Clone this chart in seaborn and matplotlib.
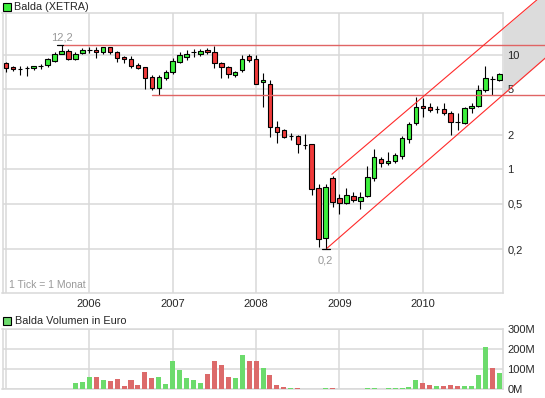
import numpy as np
import pandas as pd
import matplotlib
matplotlib.use('Agg')
import matplotlib.pyplot as plt
import seaborn as sns
from matplotlib.patches import Rectangle

# Monthly candles Jan 2005 .. Dec 2010 (month index 0..71)
months = np.arange(72)
opens = [8.46, 7.90, 7.60, 7.65, 7.65, 7.98, 8.18, 8.90, 10.3, 10.9, 9.30, 10.35,
         11.05, 11.06, 10.57, 11.7, 10.57, 9.67, 9.23, 8.18, 7.80, 6.47, 5.11, 6.32,
         7.06, 8.74, 9.67, 10.55, 10.3, 11.06, 10.7, 8.46, 7.80, 6.65, 7.40, 9.86,
         9.17, 5.76, 5.63, 2.36, 2.21, 1.965, 1.95, 1.63, 1.65, 0.682, 0.253, 0.834,
         0.558, 0.505, 0.58, 0.531, 0.588, 0.845, 1.22, 1.13, 1.18, 1.31, 1.83, 2.53,
         3.58, 3.49, 3.36, 3.37, 3.09, 2.62, 2.53, 3.42, 3.58, 4.94, 6.16, 6.04]
highs = [8.74, 8.06, 8.00, 8.06, 8.00, 8.40, 9.36, 10.7, 12.2, 11.3, 10.7, 11.45,
         11.7, 11.7, 11.7, 11.75, 10.9, 9.86, 9.86, 8.46, 7.80, 6.70, 6.70, 7.40,
         9.50, 10.7, 11.06, 11.2, 11.3, 11.6, 12.05, 8.65, 8.06, 7.25, 10.0, 10.15,
         10.0, 6.90, 6.04, 2.65, 2.25, 2.07, 1.99, 2.04, 1.66, 0.744, 0.744, 0.874,
         0.608, 0.682, 0.637, 0.637, 1.07, 1.50, 1.27, 1.43, 1.38, 1.96, 2.61, 4.32,
         4.17, 3.83, 3.58, 3.78, 3.26, 3.09, 3.53, 3.78, 5.46, 8.01, 6.55, 6.92]
lows = [7.06, 7.30, 6.70, 6.50, 7.45, 7.50, 7.80, 8.74, 10.2, 8.97, 9.10, 10.25,
        10.5, 9.50, 10.3, 10.25, 8.74, 8.57, 7.65, 7.54, 5.03, 4.94, 4.44, 6.04,
        6.78, 8.46, 9.04, 9.67, 9.86, 10.15, 7.65, 6.25, 6.32, 6.47, 7.15, 8.74,
        5.60, 3.53, 1.90, 1.71, 1.89, 1.80, 1.38, 1.50, 0.596, 0.211, 0.20, 0.465,
        0.404, 0.497, 0.52, 0.449, 0.576, 0.795, 1.05, 1.10, 1.13, 1.22, 1.69, 2.44,
        2.88, 3.19, 3.09, 2.98, 2.00, 2.21, 2.49, 3.09, 3.53, 4.77, 4.47, 5.96]
closes = [7.65, 7.54, 7.60, 7.65, 8.00, 8.05, 9.17, 10.15, 10.9, 9.17, 10.3, 11.06,
          11.08, 10.57, 11.7, 10.57, 9.50, 9.17, 8.06, 7.75, 6.25, 5.11, 6.47, 7.06,
          8.86, 10.0, 10.3, 10.58, 10.84, 10.57, 8.57, 7.80, 6.78, 7.06, 9.17, 8.97,
          5.63, 6.00, 2.36, 2.13, 1.93, 1.975, 1.65, 1.625, 0.668, 0.244, 0.704, 0.514,
          0.505, 0.592, 0.536, 0.573, 0.851, 1.27, 1.13, 1.18, 1.33, 1.87, 2.47, 3.49,
          3.42, 3.30, 3.38, 3.09, 2.61, 2.60, 3.42, 3.58, 4.94, 6.25, 6.14, 6.82]

# Volume in million euro
volumes = [0, 0, 0, 0, 0, 0, 0, 0, 0, 0, 30, 35,
           60, 60, 45, 40, 50, 15, 45, 20, 85, 55, 60, 25,
           140, 95, 55, 45, 30, 75, 140, 120, 60, 55, 170, 140,
           140, 105, 70, 20, 10, 5, 5, 0, 0, 0, 5, 5,
           0, 0, 0, 0, 5, 5, 0, 5, 5, 5, 12, 45,
           30, 20, 15, 15, 20, 15, 15, 15, 70, 210, 105, 80]

year_ticks = [0, 12, 24, 36, 48, 60]
year_labels = ['', '2006', '2007', '2008', '2009', '2010']
price_ticks = [0.2, 0.5, 1, 2, 5, 10]
price_labels = ['0,2', '0,5', '1', '2', '5', '10']
vol_ticks = [0, 100, 200, 300]
vol_labels = ['0M', '100M', '200M', '300M']

high_mark = 12.2
high_month = 8
low_mark = 0.2
low_month = 46
support_level = 4.44
support_start = 21.0

# trend channel (month, price)
chan_low_x = [46.2, 77.6]
chan_low_y = [0.204, 9.4]
chan_high_x = [46.9, 77.6]
chan_high_y = [0.905, 35.0]

UP = '#3cef3c'
DOWN = '#f03a3a'
VOL_UP = '#6cdb6c'
VOL_DOWN = '#dc6a6a'
GRID = '#d9d9d9'
LINE_RED = '#e06464'
XMIN, XMAX, XFIG = -0.49, 71.57, 77.6

sns.set_style('white')
plt.rcParams['font.family'] = ['Liberation Sans', 'DejaVu Sans']

fig = plt.figure(figsize=(5.45, 3.98), dpi=100)
ax = fig.add_axes([2.5 / 545, (398 - 293.3) / 398, 500.8 / 545, 280 / 398])
axv = fig.add_axes([2.5 / 545, (398 - 389) / 398, 500.8 / 545, 59.7 / 398])

df = pd.DataFrame({'month': months, 'open': opens, 'high': highs,
                   'low': lows, 'close': closes, 'volume': volumes})
df['dir'] = np.where(df['close'] >= df['open'], 'up', 'down')

# --- price panel ---
ax.set_yscale('log')
ax.vlines(df['month'], df['low'], df['high'], color='black', lw=0.8, zorder=3)
body_lo = df[['open', 'close']].min(axis=1)
body_h = (df['close'] - df['open']).abs()
ax.bar(df['month'], body_h, bottom=body_lo, width=0.64,
       color=np.where(df['dir'] == 'up', UP, DOWN),
       edgecolor='black', linewidth=0.8, zorder=4)

ax.set_xlim(XMIN, XMAX)
ax.set_ylim(0.0823, 23.17)
ax.set_xticks(year_ticks)
ax.set_xticklabels(year_labels, fontsize=8)
ax.set_yticks(price_ticks)
ax.set_yticklabels(price_labels, fontsize=8)
ax.yaxis.set_minor_locator(matplotlib.ticker.NullLocator())
ax.yaxis.tick_right()
ax.tick_params(axis='both', length=0)
ax.tick_params(axis='x', pad=4)
ax.tick_params(axis='y', pad=3)
ax.grid(True, color=GRID, lw=1.1, zorder=0)
ax.set_axisbelow(True)
for s in ax.spines.values():
    s.set_color(GRID)
    s.set_linewidth(1.1)

# horizontal marks
ax.plot([high_month + 0.26, XFIG], [high_mark, high_mark], color=LINE_RED, lw=1.0,
        clip_on=False, zorder=5)
ax.plot([high_month - 0.7, high_month + 0.26], [high_mark, high_mark], color='black',
        lw=0.9, zorder=6)
ax.plot([support_start, XFIG], [support_level, support_level], color=LINE_RED, lw=1.0,
        clip_on=False, zorder=5)
ax.plot([low_month - 0.5, low_month + 0.7], [low_mark, low_mark], color='black',
        lw=0.9, zorder=6)
ax.annotate('12,2', (high_month + 0.1, high_mark), xytext=(0, 8), textcoords='offset pixels',
            ha='center', va='center', fontsize=8, color='#999999')
ax.annotate('0,2', (low_month, low_mark), xytext=(0, -11), textcoords='offset pixels',
            ha='center', va='center', fontsize=8, color='#999999')

# trend channel, drawn past the plot edge
ax.plot(chan_low_x, chan_low_y, color='#ff2a2a', lw=0.8, clip_on=False, zorder=5)
ax.plot(chan_high_x, chan_high_y, color='#ff2a2a', lw=0.8, clip_on=False, zorder=5)
fx = np.array([XMAX, XFIG])
f_lo = 10 ** np.interp(fx, chan_low_x, np.log10(chan_low_y))
f_hi = 10 ** np.interp(fx, chan_high_x, np.log10(chan_high_y))
# keep the shading under the tick labels
ax.fill_between(fx, f_lo, f_hi, color='#dcdcdc', lw=0, clip_on=False, zorder=0.2)

ax.text(0.012, 0.012, '1 Tick = 1 Monat', transform=ax.transAxes, fontsize=7.5,
        color='#999999', ha='left', va='bottom')

# --- volume panel ---
sns.barplot(data=df, x='month', y='volume', hue='dir',
            palette={'up': VOL_UP, 'down': VOL_DOWN}, native_scale=True,
            dodge=False, width=0.72, saturation=1, linewidth=0, legend=False,
            ax=axv, zorder=3)
axv.set_xlim(XMIN, XMAX)
axv.set_ylim(0, 300)
axv.set_xticks(year_ticks)
axv.set_xticklabels([])
axv.set_yticks(vol_ticks)
axv.set_yticklabels(vol_labels, fontsize=8)
axv.yaxis.tick_right()
axv.tick_params(axis='both', length=0)
axv.tick_params(axis='y', pad=3)
axv.set_xlabel('')
axv.set_ylabel('')
axv.grid(True, color=GRID, lw=1.1, zorder=0)
axv.set_axisbelow(True)
for s in axv.spines.values():
    s.set_color(GRID)
    s.set_linewidth(1.1)

# --- titles with small legend squares ---
fig.add_artist(Rectangle((3 / 545, 1 - 11 / 398), 8 / 545, 8 / 398,
                         transform=fig.transFigure, facecolor=UP,
                         edgecolor='black', lw=0.8))
fig.text(14 / 545, 1 - 7 / 398, 'Balda (XETRA)', fontsize=7.8, va='center', ha='left')
fig.add_artist(Rectangle((3 / 545, 1 - 325.3 / 398), 8 / 545, 8 / 398,
                         transform=fig.transFigure, facecolor=VOL_UP,
                         edgecolor='black', lw=0.8))
fig.text(15 / 545, 1 - 321 / 398, 'Balda Volumen in Euro', fontsize=7.8,
         va='center', ha='left')

fig.savefig('out.png', dpi=100)
plt.close(fig)
